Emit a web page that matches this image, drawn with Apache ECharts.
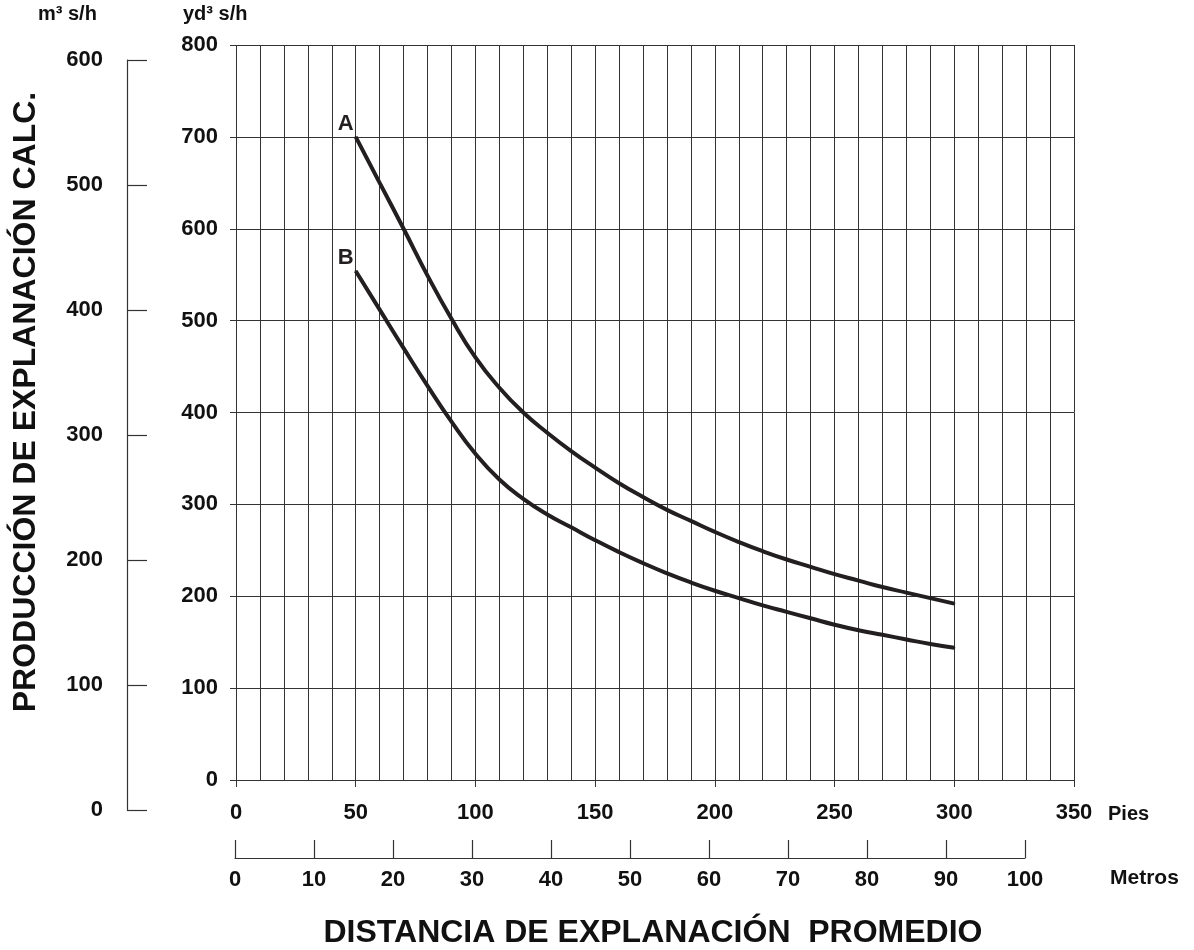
<!DOCTYPE html>
<html>
<head>
<meta charset="utf-8">
<script src="https://cdn.jsdelivr.net/npm/echarts@6/dist/echarts.min.js"></script>
<style>
html,body{margin:0;padding:0;background:#fff;}
#chart{width:1194px;height:950px;}
</style>
</head>
<body>
<div id="chart"></div>
<script>
// Distance in feet (Pies)
var distanciaPies = [50, 60, 70, 80, 90, 100, 110, 120, 130, 140, 150, 160, 170, 180, 190, 200, 210, 220, 230, 240, 250, 260, 270, 280, 290, 300];
// Production in yd3/h
var curvaA = [700, 650, 600, 549, 502, 460, 427, 400, 378, 358, 340, 323, 308, 294, 282, 270, 259, 249, 240, 232, 224, 217, 210, 204, 198, 192];
var curvaB = [554, 512, 470, 429, 390, 355, 327, 306, 289, 275, 261, 248, 236, 225, 215, 206, 198, 190, 183, 176, 169, 163, 158, 153, 148, 144];
var nombres = ['A', 'B'];
var yd3Ticks = [0, 800, 100];
var m3Ticks = [0, 600, 100];
var metrosTicks = [0, 100, 10];
var piesTicks = [0, 350, 50];

var FONT = '"Liberation Sans", Arial, Helvetica, sans-serif';
var INK = '#231f20';
var GRID = '#333333';

function buildData(xs, ys, name) {
  return xs.map(function (x, i) {
    var item = { value: [x, ys[i]] };
    if (i === 0) {
      item.label = {
        show: true, formatter: name, position: 'left', distance: 1,
        offset: [0, -13], color: INK, fontFamily: FONT, fontWeight: 'bold', fontSize: 22
      };
    }
    return item;
  });
}

var chart = echarts.init(document.getElementById('chart'), null, { renderer: 'canvas' });

var labelStyle = { color: '#111', fontFamily: FONT, fontWeight: 'bold', fontSize: 22 };

function curve(name, ys) {
  return {
    type: 'line', name: name, xAxisIndex: 0, yAxisIndex: 0,
    smooth: 0.5,
    showSymbol: true, symbol: 'circle', symbolSize: 2,
    itemStyle: { color: INK },
    label: { show: false },
    lineStyle: { color: INK, width: 4 },
    data: buildData(distanciaPies, ys, name)
  };
}

var option = {
  animation: false,
  backgroundColor: '#fff',
  grid: [
    { left: 236, top: 45, width: 838, height: 735, containLabel: false },
    { left: 235, top: 840, width: 790, height: 18, containLabel: false },
    { left: 127, top: 60, width: 20, height: 750, containLabel: false }
  ],
  xAxis: [
    {
      gridIndex: 0, type: 'value', min: piesTicks[0], max: piesTicks[1], interval: piesTicks[2],
      axisLine: { show: false },
      axisTick: { show: true, length: 7, lineStyle: { color: GRID, width: 1 } },
      axisLabel: Object.assign({ margin: 22 }, labelStyle),
      splitLine: { show: true, lineStyle: { color: GRID, width: 1 } },
      minorTick: { show: false, splitNumber: 5 },
      minorSplitLine: { show: true, lineStyle: { color: GRID, width: 1 } }
    },
    {
      gridIndex: 1, type: 'value', min: metrosTicks[0], max: metrosTicks[1], interval: metrosTicks[2],
      axisLine: { show: true, lineStyle: { color: GRID, width: 1.2 } },
      axisTick: { show: true, inside: true, length: 18, lineStyle: { color: GRID, width: 1.2 } },
      axisLabel: Object.assign({ margin: 11 }, labelStyle),
      splitLine: { show: false }
    },
    {
      gridIndex: 2, type: 'value', min: 0, max: 1, show: false
    }
  ],
  yAxis: [
    {
      gridIndex: 0, type: 'value', min: yd3Ticks[0], max: yd3Ticks[1], interval: yd3Ticks[2],
      axisLine: { show: false },
      axisTick: { show: true, length: 6, lineStyle: { color: GRID, width: 1 } },
      axisLabel: Object.assign({ margin: 18 }, labelStyle),
      splitLine: { show: true, lineStyle: { color: GRID, width: 1 } }
    },
    {
      gridIndex: 1, type: 'value', min: 0, max: 1, show: false
    },
    {
      gridIndex: 2, type: 'value', min: m3Ticks[0], max: m3Ticks[1], interval: m3Ticks[2],
      axisLine: { show: true, onZero: false, lineStyle: { color: GRID, width: 1.2 } },
      axisTick: { show: true, inside: true, length: 20, lineStyle: { color: GRID, width: 1.2 } },
      axisLabel: Object.assign({ margin: 24 }, labelStyle),
      splitLine: { show: false }
    }
  ],
  series: [curve(nombres[0], curvaA), curve(nombres[1], curvaB)],
  graphic: [
    { type: 'text', left: 38, top: 4, style: { text: 'm³ s/h', fill: '#111', font: 'bold 20px ' + FONT } },
    { type: 'text', left: 183, top: 4, style: { text: 'yd³ s/h', fill: '#111', font: 'bold 20px ' + FONT } },
    { type: 'text', left: 1108, top: 804, style: { text: 'Pies', fill: '#111', font: 'bold 20px ' + FONT } },
    { type: 'text', left: 1110, top: 868, style: { text: 'Metros', fill: '#111', font: 'bold 21px ' + FONT } },
    { type: 'text', x: 653, y: 933, style: { text: 'DISTANCIA DE EXPLANACIÓN  PROMEDIO', fill: '#111', font: 'bold 32px ' + FONT, align: 'center', verticalAlign: 'middle' } },
    { type: 'text', x: 26, y: 402, rotation: Math.PI / 2, style: { text: 'PRODUCCIÓN DE EXPLANACIÓN CALC.', fill: '#111', font: 'bold 32px ' + FONT, align: 'center', verticalAlign: 'middle' } }
  ]
};

chart.setOption(option);
</script>
</body>
</html>
